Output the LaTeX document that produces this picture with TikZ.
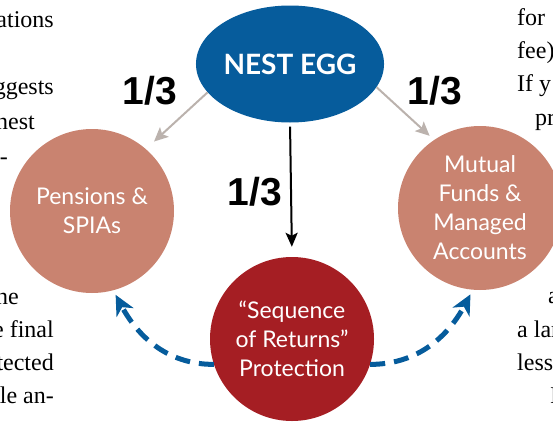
\documentclass[tikz,border=0pt]{standalone}
\usepackage{fontspec}
\setmainfont{Liberation Serif}
\newfontfamily\labelfont{Lato}
\newfontfamily\fracfont{Liberation Sans}
\usetikzlibrary{shapes.geometric,arrows.meta}
\definecolor{eggblue}{HTML}{065C9C}
\definecolor{salmon}{HTML}{C98370}
\definecolor{deepred}{HTML}{A51E23}
\definecolor{taupe}{HTML}{BBB2AD}
\tikzset{
  bubble/.style={circle, minimum size=164pt, inner sep=0pt, text=white,
    align=center, font=\labelfont\fontsize{23}{29}\selectfont},
  egg/.style={ellipse, fill=eggblue, minimum width=182pt, minimum height=117pt,
    inner sep=0pt, text=white, font=\labelfont\bfseries\fontsize{28}{30}\selectfont},
  share/.style={font=\fracfont\bfseries\fontsize{39}{40}\selectfont, inner sep=0pt},
  body/.style={font=\fontsize{24}{33}\selectfont, inner sep=0pt},
  split/.style={draw=taupe, line width=2pt,
    -{Stealth[length=14pt,width=13pt,inset=3pt]}},
  direct/.style={draw=black, line width=2pt,
    -{Stealth[length=14pt,width=12pt,inset=3pt]}},
  refill/.style={draw=eggblue, line width=5pt, dash pattern=on 15pt off 9pt,
    -{Stealth[length=20pt,width=19pt,inset=6pt]}},
}
\begin{document}
\begin{tikzpicture}[x=1pt,y=-1pt]
  \useasboundingbox (0,0) rectangle (553,423);
  \clip (0,0) rectangle (553,423);

  % column text on either side
  \node[body, anchor=base east] (l1) at (54,27) {ations};
  \node[body, anchor=base east] (l2) at (54,94) {ggests};
  \node[body, anchor=base east] (l3) at (35,129) {nest};
  \node[body, anchor=base east] (l4) at (8,164) {-};
  \node[body, anchor=base east] (l5) at (19,304) {ne};
  \node[body, anchor=base east] (l6) at (54,337) {e final};
  \node[body, anchor=base east] (l7) at (54,370) {tected};
  \node[body, anchor=base east] (l8) at (54,403) {le an-};

  \node[body, anchor=base west] (r1) at (517,25) {for};
  \node[body, anchor=base west] (r2) at (517,58) {fee)};
  \node[body, anchor=base west] (r3) at (517,91) {If y};
  \node[body, anchor=base west] (r4) at (535,125) {pr};
  \node[body, anchor=base west] (r5) at (548,303) {a};
  \node[body, anchor=base west] (r6) at (517,337) {a lar};
  \node[body, anchor=base west] (r7) at (517,370) {less};
  \node[body, anchor=base west] (r8) at (550,403) {I};

  % the four bubbles
  \node[egg] (nest) at (290,64) {NEST EGG};
  \node[bubble, fill=salmon] (pens) at (92,211) {Pensions \&\\SPIAs};
  \node[bubble, fill=salmon] (fund) at (480,208) {Mutual\\Funds \&\\Managed\\Accounts};
  \node[bubble, fill=deepred] (seq) at (292,339) {“Sequence\\of Returns”\\Protection};

  % splitting the nest egg
  \draw[split, shorten >=11pt] (nest.199) -- (pens.49);
  \draw[split, shorten >=6pt] (nest.-15) -- (fund.124);
  \draw[direct, shorten <=4pt, shorten >=10pt] (nest.south) -- (seq.north);

  \node[share] (s1) at (150,91) {1/3};
  \node[share] (s2) at (435,91) {1/3};
  \node[share] (s3) at (255,192) {1/3};

  % protection feeding back into the other two
  \draw[refill, shorten >=5pt] (seq.198) to[out=180, in=-62] (pens.-75);
  \draw[refill, shorten >=5pt] (seq.-18) to[out=0, in=-118] (fund.-95);
\end{tikzpicture}
\end{document}
